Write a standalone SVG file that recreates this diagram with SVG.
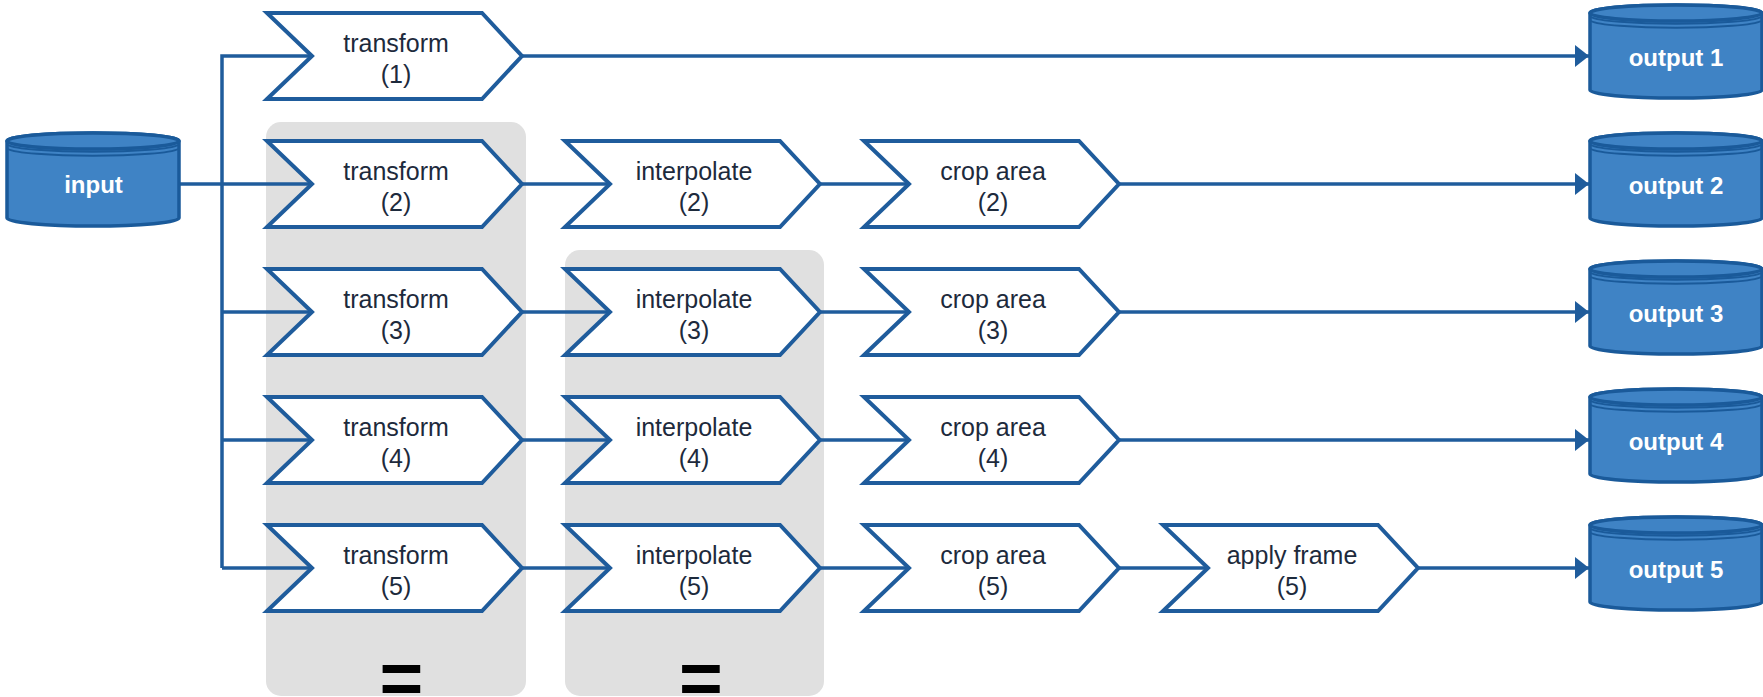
<svg xmlns="http://www.w3.org/2000/svg" width="1763" height="697" viewBox="0 0 1763 697">
<style>
.panel{fill:#e0e0e0}
.chev{fill:#ffffff;stroke:#1f5c9c;stroke-width:4;stroke-linejoin:miter}
.lbl{font-family:"Liberation Sans",Arial,sans-serif;font-size:25px;fill:#1d2a3c;text-anchor:middle}
.cyl{fill:#3f83c5;stroke:#1a5a9a;stroke-width:3.5}
.ring{fill:none;stroke:#1a5a9a;stroke-width:2}
.cl{font-family:"Liberation Sans",Arial,sans-serif;font-size:24px;font-weight:bold;fill:#ffffff;text-anchor:middle}
.eq{font-family:"Liberation Sans",Arial,sans-serif;font-size:75px;font-weight:bold;fill:#000000;text-anchor:middle}
.conn{fill:none;stroke:#1f5c9c;stroke-width:3.5}
</style>
<defs>
<marker id="arr" markerUnits="userSpaceOnUse" markerWidth="15" markerHeight="24" refX="14" refY="11" orient="auto">
<path d="M0,0 L14,11 L0,22 z" fill="#1f5c9c"/>
</marker>
<path id="chev" class="chev" d="M0,-43 L215,-43 L255,0 L215,43 L0,43 L45,0 Z"/>
<g id="cylshape">
<path class="cyl" d="M0,-43 L0,34 A86,8 0 0 0 172,34 L172,-43 A86,8 0 0 0 0,-43 Z"/>
<ellipse class="cyl" cx="86" cy="-43" rx="86" ry="8"/>
<path class="ring" d="M1,-39 A86,8 0 0 0 171,-39"/>
<path class="ring" d="M1,-35 A86,8 0 0 0 171,-35"/>
</g>
</defs>

<g id="panels">
<rect class="panel" x="266" y="122" width="260" height="574" rx="15"/>
<rect class="panel" x="565" y="250" width="259" height="446" rx="15"/>
<text class="eq" x="401.5" y="704">=</text>
<text class="eq" x="701" y="704">=</text>
</g>

<g id="connectors">
<path class="conn" d="M180,184 L312,184"/>
<path class="conn" d="M222,568 L222,56 L312,56"/>
<path class="conn" d="M222,312 L312,312"/>
<path class="conn" d="M222,440 L312,440"/>
<path class="conn" d="M222,568 L312,568"/>
<path class="conn" d="M522,56 L1589,56" marker-end="url(#arr)"/>
<path class="conn" d="M522,184 L610,184"/>
<path class="conn" d="M522,312 L610,312"/>
<path class="conn" d="M522,440 L610,440"/>
<path class="conn" d="M522,568 L610,568"/>
<path class="conn" d="M820,184 L909,184"/>
<path class="conn" d="M820,312 L909,312"/>
<path class="conn" d="M820,440 L909,440"/>
<path class="conn" d="M820,568 L909,568"/>
<path class="conn" d="M1119,184 L1589,184" marker-end="url(#arr)"/>
<path class="conn" d="M1119,312 L1589,312" marker-end="url(#arr)"/>
<path class="conn" d="M1119,440 L1589,440" marker-end="url(#arr)"/>
<path class="conn" d="M1119,568 L1208,568"/>
<path class="conn" d="M1418,568 L1589,568" marker-end="url(#arr)"/>
</g>

<g id="input">
<use href="#cylshape" transform="translate(7,184)"/>
<text class="cl" x="93.5" y="193">input</text>
</g>

<g id="transform1"><use href="#chev" transform="translate(267,56)"/><text class="lbl" x="396" y="52">transform</text><text class="lbl" x="396" y="83">(1)</text></g>
<g id="transform2"><use href="#chev" transform="translate(267,184)"/><text class="lbl" x="396" y="180">transform</text><text class="lbl" x="396" y="211">(2)</text></g>
<g id="transform3"><use href="#chev" transform="translate(267,312)"/><text class="lbl" x="396" y="308">transform</text><text class="lbl" x="396" y="339">(3)</text></g>
<g id="transform4"><use href="#chev" transform="translate(267,440)"/><text class="lbl" x="396" y="436">transform</text><text class="lbl" x="396" y="467">(4)</text></g>
<g id="transform5"><use href="#chev" transform="translate(267,568)"/><text class="lbl" x="396" y="564">transform</text><text class="lbl" x="396" y="595">(5)</text></g>

<g id="interpolate2"><use href="#chev" transform="translate(565,184)"/><text class="lbl" x="694" y="180">interpolate</text><text class="lbl" x="694" y="211">(2)</text></g>
<g id="interpolate3"><use href="#chev" transform="translate(565,312)"/><text class="lbl" x="694" y="308">interpolate</text><text class="lbl" x="694" y="339">(3)</text></g>
<g id="interpolate4"><use href="#chev" transform="translate(565,440)"/><text class="lbl" x="694" y="436">interpolate</text><text class="lbl" x="694" y="467">(4)</text></g>
<g id="interpolate5"><use href="#chev" transform="translate(565,568)"/><text class="lbl" x="694" y="564">interpolate</text><text class="lbl" x="694" y="595">(5)</text></g>

<g id="crop2"><use href="#chev" transform="translate(864,184)"/><text class="lbl" x="993" y="180">crop area</text><text class="lbl" x="993" y="211">(2)</text></g>
<g id="crop3"><use href="#chev" transform="translate(864,312)"/><text class="lbl" x="993" y="308">crop area</text><text class="lbl" x="993" y="339">(3)</text></g>
<g id="crop4"><use href="#chev" transform="translate(864,440)"/><text class="lbl" x="993" y="436">crop area</text><text class="lbl" x="993" y="467">(4)</text></g>
<g id="crop5"><use href="#chev" transform="translate(864,568)"/><text class="lbl" x="993" y="564">crop area</text><text class="lbl" x="993" y="595">(5)</text></g>

<g id="applyframe5"><use href="#chev" transform="translate(1163,568)"/><text class="lbl" x="1292" y="564">apply frame</text><text class="lbl" x="1292" y="595">(5)</text></g>

<g id="output1"><use href="#cylshape" transform="translate(1590,56)"/><text class="cl" x="1676" y="66">output 1</text></g>
<g id="output2"><use href="#cylshape" transform="translate(1590,184)"/><text class="cl" x="1676" y="194">output 2</text></g>
<g id="output3"><use href="#cylshape" transform="translate(1590,312)"/><text class="cl" x="1676" y="322">output 3</text></g>
<g id="output4"><use href="#cylshape" transform="translate(1590,440)"/><text class="cl" x="1676" y="450">output 4</text></g>
<g id="output5"><use href="#cylshape" transform="translate(1590,568)"/><text class="cl" x="1676" y="578">output 5</text></g>
</svg>
